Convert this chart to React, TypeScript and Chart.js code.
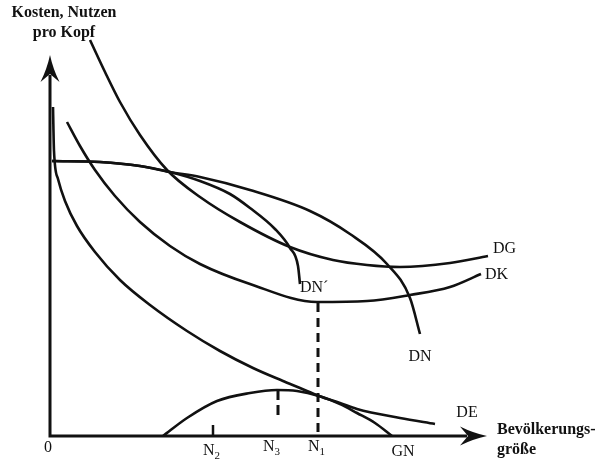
import { useEffect, useRef } from "react";
import { Chart, registerables } from "chart.js";

Chart.register(...registerables);

// curves (x: population, y: cost / benefit per head)
const DN = [[2, 275], [50, 274], [90, 270], [120, 264], [150, 259], [200, 246], [260, 225], [300, 202], [337, 172], [360, 138], [370, 102]];
const DN_PRIME = [[2, 275], [50, 274], [90, 270], [120, 264], [150, 255], [180, 242], [200, 228], [225, 207], [240, 188], [248, 170], [250, 152]];
const DG = [[40, 396], [55, 364], [70, 334], [90, 301], [117, 266], [150, 239], [190, 214], [240, 189], [283, 176], [317, 171], [350, 169], [400, 173], [438, 180]];
const DK = [[17, 314], [30, 290], [45, 266], [65, 240], [90, 214], [120, 190], [150, 172], [200, 152], [267, 134], [317, 135], [360, 141], [400, 149], [431, 162]];
const DE = [[3, 329], [4, 285], [8, 257], [15, 235], [27, 210], [45, 184], [70, 156], [100, 131], [137, 105], [170, 85], [203, 68], [233, 55], [250, 48], [269, 40], [290, 33], [307, 27], [350, 18], [385, 12]];
const GN = [[113, 0], [137, 18], [167, 35], [200, 43], [227, 46], [247, 45], [269, 40], [290, 32], [307, 23], [325, 13], [342, 0]];

// positions on the population axis
const N1 = 268;
const N2 = 163;
const N3 = 228;

const X_MAX = 450;
const Y_MAX = 400;
const X_ARROW = 437;
const Y_ARROW = 381;

const toPts = (a: number[][]) => a.map(([x, y]) => ({ x, y }));

const SERIF = "'Liberation Serif', 'DejaVu Serif', serif";

function arrow(ctx: CanvasRenderingContext2D, tx: number, ty: number, dx: number, dy: number) {
	// dx, dy: unit direction the arrow points to
	const len = 27;
	const half = 9.5;
	const bx = tx - dx * len;
	const by = ty - dy * len;
	const nx = tx - dx * (len - 8);
	const ny = ty - dy * (len - 8);
	ctx.beginPath();
	ctx.moveTo(tx, ty);
	ctx.quadraticCurveTo(tx - dx * 14 - dy * 3, ty - dy * 14 + dx * 3, bx - dy * half, by + dx * half);
	ctx.lineTo(nx, ny);
	ctx.lineTo(bx + dy * half, by - dx * half);
	ctx.quadraticCurveTo(tx - dx * 14 + dy * 3, ty - dy * 14 - dx * 3, tx, ty);
	ctx.closePath();
	ctx.fill();
}

const axesPlugin = {
	id: "econAxes",
	afterDatasetsDraw(chart: Chart) {
		const { ctx } = chart;
		const xs = chart.scales.x;
		const ys = chart.scales.y;
		const px = (v: number) => xs.getPixelForValue(v);
		const py = (v: number) => ys.getPixelForValue(v);
		ctx.save();
		ctx.strokeStyle = "#111";
		ctx.fillStyle = "#111";
		ctx.lineWidth = 3;
		ctx.lineCap = "butt";

		// axes
		ctx.beginPath();
		ctx.moveTo(px(0), py(0));
		ctx.lineTo(px(0), py(Y_ARROW) + 20);
		ctx.moveTo(px(0) - 1.5, py(0));
		ctx.lineTo(px(X_ARROW) - 20, py(0));
		ctx.stroke();
		arrow(ctx, px(0), py(Y_ARROW), 0, -1);
		arrow(ctx, px(X_ARROW), py(0), 1, 0);

		// N2 tick
		ctx.lineWidth = 2.5;
		ctx.beginPath();
		ctx.moveTo(px(N2), py(0));
		ctx.lineTo(px(N2), py(11));
		ctx.stroke();

		// dashed verticals
		ctx.lineWidth = 3;
		ctx.setLineDash([9, 6]);
		ctx.beginPath();
		ctx.moveTo(px(N1), py(133));
		ctx.lineTo(px(N1), py(0));
		ctx.stroke();
		ctx.setLineDash([10, 5]);
		ctx.beginPath();
		ctx.moveTo(px(N3), py(46));
		ctx.lineTo(px(N3), py(17));
		ctx.stroke();
		ctx.setLineDash([]);

		// labels
		const text = (s: string, x: number, y: number, align: CanvasTextAlign, font: string) => {
			ctx.font = font;
			ctx.textAlign = align;
			ctx.textBaseline = "middle";
			ctx.fillText(s, px(x), py(y));
		};
		const sub = (s: string, idx: string, x: number, y: number) => {
			ctx.font = `16px ${SERIF}`;
			ctx.textAlign = "left";
			ctx.textBaseline = "middle";
			const w = ctx.measureText(s).width;
			ctx.fillText(s, px(x), py(y));
			ctx.font = `11px ${SERIF}`;
			ctx.fillText(idx, px(x) + w, py(y) + 5);
		};
		const bold = `bold 16px ${SERIF}`;
		const reg = `16px ${SERIF}`;
		text("Kosten, Nutzen", 14, 423, "center", bold);
		text("pro Kopf", 14, 403, "center", bold);
		text("Bevölkerungs-", 447, 6, "left", bold);
		text("größe", 447, -14, "left", bold);
		text("0", -2, -12, "center", reg);
		text("DG", 443, 187, "left", reg);
		text("DK", 435, 161, "left", reg);
		text("DN\u00b4", 250, 148, "left", reg);
		text("DN", 370, 79, "center", reg);
		text("DE", 417, 23, "center", reg);
		text("GN", 353, -16, "center", reg);
		sub("N", "2", N2 - 10, -15);
		sub("N", "3", N3 - 15, -11);
		sub("N", "1", N1 - 10, -11);
		ctx.restore();
	},
};

const curve = (label: string, data: number[][]) => ({
	label,
	data: toPts(data),
	showLine: true,
	borderColor: "#111",
	borderWidth: 2.6,
	pointRadius: 0,
	cubicInterpolationMode: "monotone" as const,
	fill: false,
	clip: false as const,
});

export default function App() {
	const canvasRef = useRef<HTMLCanvasElement | null>(null);

	useEffect(() => {
		document.body.style.margin = "0";
		if (!canvasRef.current) return;
		const chart = new Chart(canvasRef.current, {
			type: "scatter",
			data: {
				datasets: [
					curve("DN", DN),
					curve("DN´", DN_PRIME),
					curve("DG", DG),
					curve("DK", DK),
					curve("DE", DE),
					curve("GN", GN),
				],
			},
			options: {
				responsive: false,
				animation: false,
				layout: { padding: { left: 50, right: 101, top: 36, bottom: 26 } },
				scales: {
					x: { type: "linear", min: 0, max: X_MAX, display: false },
					y: { type: "linear", min: 0, max: Y_MAX, display: false },
				},
				plugins: {
					legend: { display: false },
					tooltip: { enabled: false },
				},
			},
			plugins: [axesPlugin],
		});
		return () => chart.destroy();
	}, []);

	return (
		<div style={{ width: 601, height: 462, background: "#fff" }}>
			<canvas ref={canvasRef} width={601} height={462} />
		</div>
	);
}
